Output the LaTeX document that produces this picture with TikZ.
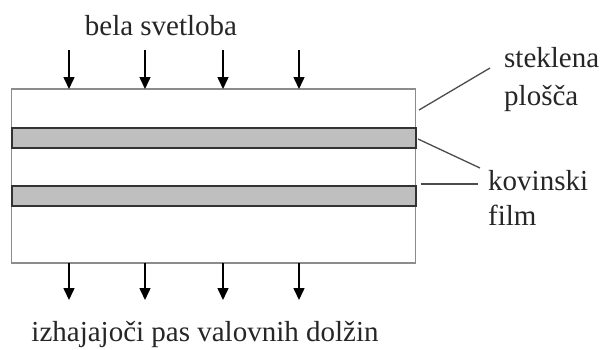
\documentclass[tikz,border=0pt]{standalone}
\usepackage{fontspec}
\setmainfont{Liberation Serif}
\usetikzlibrary{arrows.meta}
\begin{document}
\begin{tikzpicture}[x=1pt,y=-1pt,
  lbl/.style={font=\fontsize{29}{32}\selectfont, text=black!85, inner sep=0pt, anchor=base},
  lbll/.style={lbl, anchor=base west},
  ray/.style={line width=1.5pt, -{Triangle[width=11pt,length=12pt]}},
  plate/.style={draw=black!45, line width=1.3pt, fill=white},
  film/.style={draw=black!80, line width=2pt, fill=black!25},
  lead/.style={draw=black!70, line width=1.3pt}]
\useasboundingbox[fill=white] (0,0) rectangle (603,349);
% glass plate
\draw[plate] (11.5,89) rectangle (415.5,263);
\coordinate (plateE) at (419,110);
% metal films
\draw[film] (11.5,127.5) rectangle (415.5,148);
\draw[film] (11.5,185.5) rectangle (415.5,206);
\coordinate (film1E) at (418,139);
\coordinate (film2E) at (421,184);
% incoming arrows
\foreach \i/\x in {1/69,2/145,3/223,4/299}{
  \coordinate (in\i s) at (\x,50);
  \coordinate (in\i e) at (\x,89);
  \draw[ray] (in\i s) -- (in\i e);
  \coordinate (out\i s) at (\x,263);
  \coordinate (out\i e) at (\x,300);
  \draw[ray] (out\i s) -- (out\i e);
}
% texts
\node[lbl] (top) at (161,35) {bela svetloba};
\node[lbl] (bottom) at (205,341) {izhajajoči pas valovnih dolžin};
\node[lbll] (st1) at (504,67) {steklena};
\node[lbll] (st2) at (504,105) {plošča};
\node[lbll] (kv1) at (488,190) {kovinski};
\node[lbll] (kv2) at (488,225) {film};
% leader lines
\coordinate (l1) at (490,68);
\coordinate (l2) at (480,168);
\coordinate (l3) at (478,184);
\draw[lead] (plateE) -- (l1);
\draw[lead] (film1E) -- (l2);
\draw[lead] (film2E) -- (l3);
\end{tikzpicture}
\end{document}
